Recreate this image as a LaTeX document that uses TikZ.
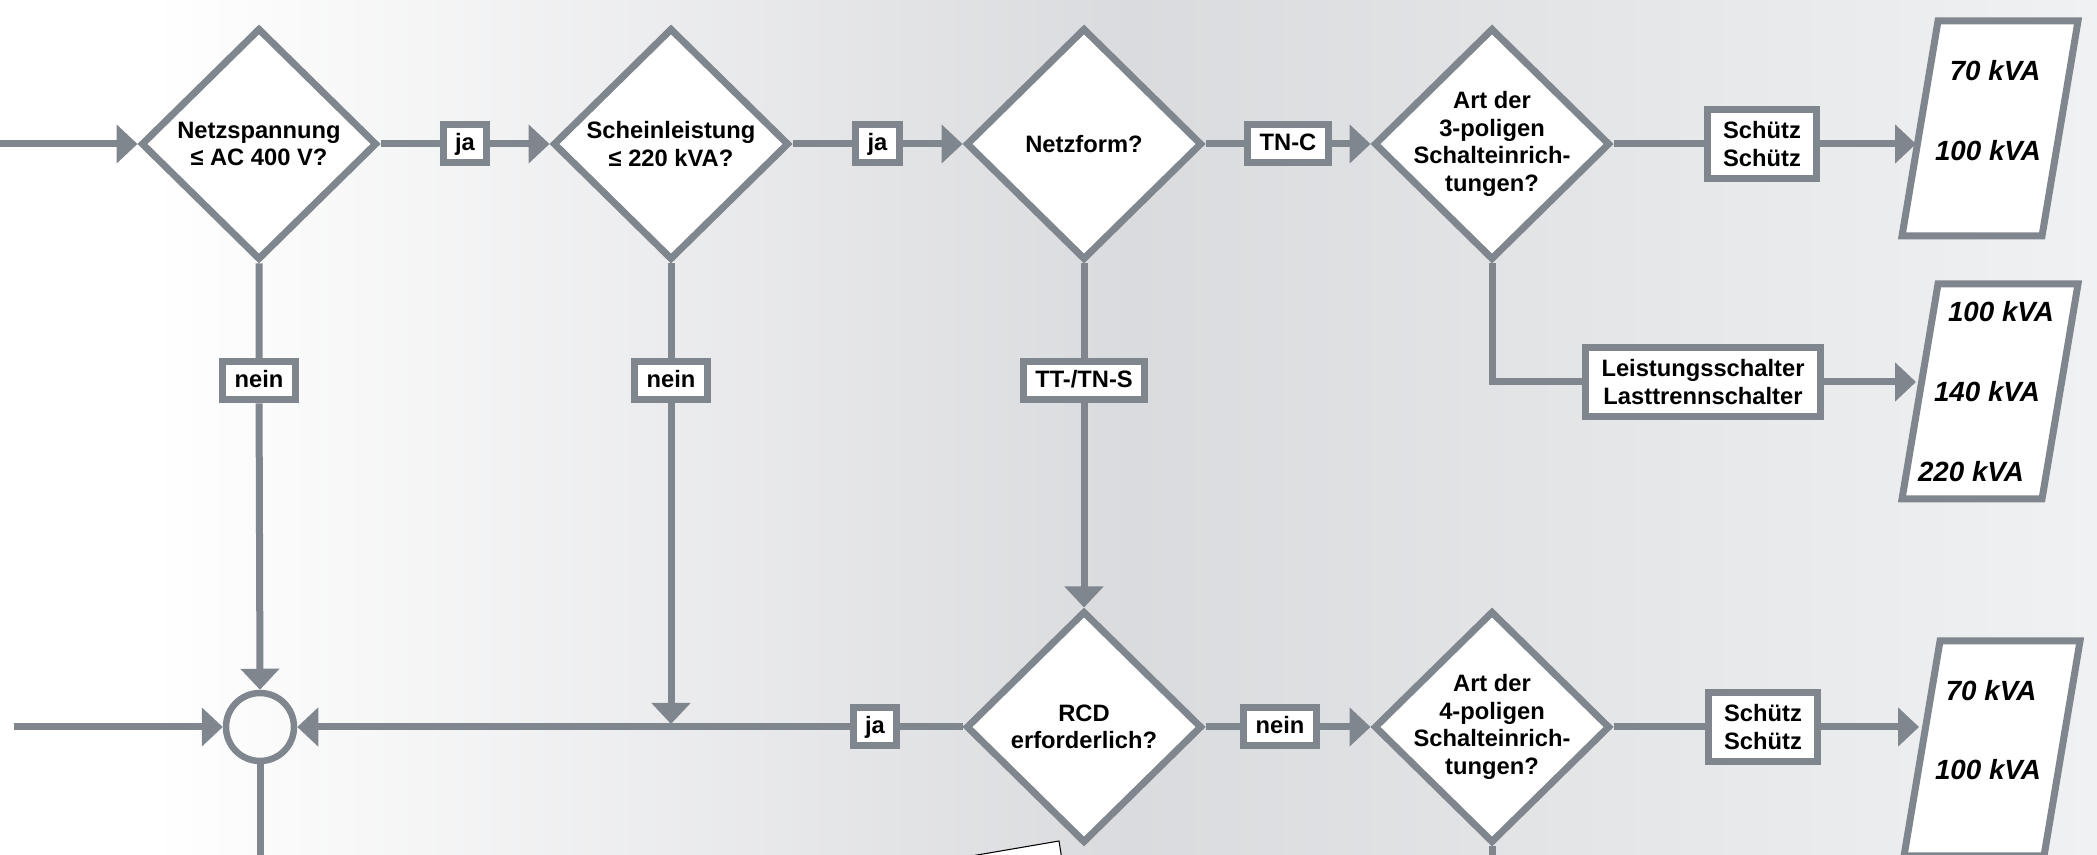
\documentclass[tikz,border=0pt]{standalone}
\usepackage{fontspec}
\setmainfont{Liberation Sans}
\usetikzlibrary{arrows.meta, shapes.geometric, positioning}
\definecolor{flowgray}{RGB}{128,134,142}
\definecolor{bgmid}{RGB}{218,219,222}
\definecolor{bgright}{RGB}{240,241,242}

\begin{document}
\begin{tikzpicture}[
  x=0.1mm, y=-0.1mm,
  every node/.style={font=\fontsize{6.75pt}{7.8pt}\selectfont\bfseries},
  decbox/.style={diamond, draw=flowgray, fill=white, line width=0.7mm, inner sep=0pt,
    minimum width=23.6mm, minimum height=23.2mm, align=center},
  tightdec/.style={decbox, inner sep=-1.1mm},
  lblbox/.style={draw=flowgray, fill=white, line width=0.7mm, inner xsep=1.2mm, inner ysep=0pt,
    minimum height=3.8mm, text height=1.7mm, text depth=0.45mm},
  actbox/.style={draw=flowgray, fill=white, line width=0.7mm, inner xsep=1.6mm,
    minimum height=6.7mm, align=center},
  joinnode/.style={circle, draw=flowgray, line width=0.65mm, minimum size=6.8mm, inner sep=0pt},
  kvatext/.style={font=\fontsize{7.9pt}{9pt}\selectfont\bfseries\itshape},
  outbox/.style={draw=flowgray, fill=white, line width=0.7mm},
  conn/.style={draw=flowgray, line width=0.7mm},
  arr/.style={conn, -{Triangle[length=2.1mm, width=3.8mm]}},
  paper/.style={draw=black, fill=white, line width=0.3pt}
]
\useasboundingbox (0,0) rectangle (2097,855);
\clip (0,0) rectangle (2097,855);

% Background
\fill[white] (0,0) rectangle (152,855);
\shade[left color=white, right color=bgmid] (150,0) rectangle (1132,855);
\shade[left color=bgmid, right color=bgright] (1130,0) rectangle (2097,855);

% Decisions
\node[decbox] (netz) at (259,144) {Netzspannung\\≤ AC 400 V?};
\node[decbox] (schein) at (671,144) {Scheinleistung\\≤ 220 kVA?};
\node[decbox] (netzform) at (1084,144) {Netzform?};
\node[tightdec] (art3) at (1492,144) {Art der\\3-poligen\\Schalteinrich-\\tungen?};
\node[decbox] (rcd) at (1084,727) {RCD\\erforderlich?};
\node[tightdec] (art4) at (1492,727) {Art der\\4-poligen\\Schalteinrich-\\tungen?};
\node[joinnode] (merge) at (260,727) {};

% Switching devices
\node[actbox] (schuetz3) at (1762,144) {Schütz\\Schütz};
\node[actbox] (leist) at (1703,382) {Leistungsschalter\\Lasttrennschalter};
\node[actbox] (schuetz4) at (1763,727) {Schütz\\Schütz};

% Branch labels
\node[lblbox] (nein1) at (259,381) {nein};
\node[lblbox] (nein2) at (671,381) {nein};
\node[lblbox] (tnts) at (1084,381) {TT-/TN-S};
\node[lblbox] (ja3) at (875,727) {ja};
\node[lblbox] (nein3) at (1280,727) {nein};

% Power ranges
\draw[outbox] (1938,21) -- ++(140,0) -- ++(-36,215) -- ++(-140,0) -- cycle;
\draw[outbox] (1938,284) -- ++(140,0) -- ++(-36,215) -- ++(-140,0) -- cycle;
\draw[outbox] (1940,641) -- ++(140,0) -- ++(-36,215) -- ++(-140,0) -- cycle;
\node[kvatext] (kva70a) at (1995,71) {70 kVA};
\node[kvatext] (kva100a) at (1988,151) {100 kVA};
\node[kvatext] (kva100b) at (2001,312) {100 kVA};
\node[kvatext] (kva140b) at (1987,392) {140 kVA};
\node[kvatext] (kva220b) at (1971,472) {220 kVA};
\node[kvatext] (kva70c) at (1991,691) {70 kVA};
\node[kvatext] (kva100c) at (1988,770) {100 kVA};

% Free ends
\coordinate (in1) at (0,144);
\coordinate (in2) at (14,727);
\coordinate (down1) at (260,860);
\coordinate (down4) at (1492,860);
\coordinate (tee2) at (671,724);
\coordinate (range3) at (1916,144);
\coordinate (rangels) at (1916,382);
\coordinate (range4) at (1919,727);

% Arrows - upper row
\draw[arr] (in1) -- (netz.west);
\draw[arr] (netz.east) -- node[lblbox] (ja1) {ja} (schein.west);
\draw[arr] (schein.east) -- node[lblbox] (ja2) {ja} (netzform.west);
\draw[arr] (netzform.east) -- node[lblbox] (tnc) {TN-C} (art3.west);
\draw[conn] (art3.east) -- (schuetz3.west);
\draw[arr] (schuetz3.east) -- (range3);
\draw[conn] (art3.south) |- (leist.west);
\draw[arr] (leist.east) -- (rangels);

% Arrows - columns
\draw[arr] (netz.south) -- (nein1) -- (merge.north);
\draw[arr] (schein.south) -- (nein2) -- (tee2);
\draw[arr] (netzform.south) -- (tnts) -- (rcd.north);

% Arrows - lower row
\draw[arr] (in2) -- (merge.west);
\draw[arr] (rcd.west) -- (ja3) -- (merge.east);
\draw[conn] (merge.south) -- (down1);
\draw[arr] (rcd.east) -- (nein3) -- (art4.west);
\draw[conn] (art4.east) -- (schuetz4.west);
\draw[arr] (schuetz4.east) -- (range4);
\draw[conn] (art4.south) -- (down4);

% Sheet at the lower edge
\draw[paper] (948,860) -- (1059,841) -- (1062,860) -- cycle;

\end{tikzpicture}
\end{document}
